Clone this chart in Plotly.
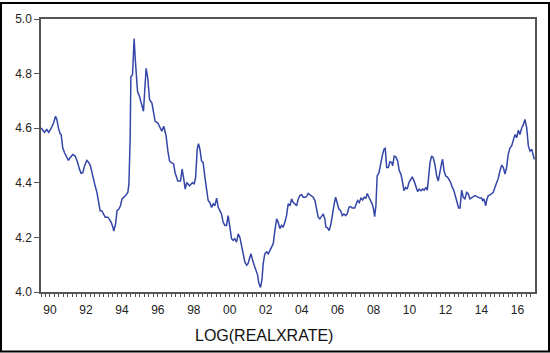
import plotly.graph_objects as go

# Traced observations: decimal year and LOG(REALXRATE)
dates = [
    1990.01, 1990.19, 1990.32, 1990.43, 1990.56, 1990.70, 1990.81, 1990.88, 1990.97, 1991.06,
    1991.12, 1991.21, 1991.31, 1991.44, 1991.53, 1991.62, 1991.77, 1991.90, 1992.01, 1992.14,
    1992.23, 1992.33, 1992.42, 1992.55, 1992.66, 1992.75, 1992.83, 1992.92, 1993.01, 1993.11,
    1993.20, 1993.29, 1993.38, 1993.48, 1993.57, 1993.72, 1993.81, 1993.90, 1994.00, 1994.05,
    1994.15, 1994.23, 1994.33, 1994.42, 1994.51, 1994.61, 1994.70, 1994.83, 1994.89, 1994.96,
    1995.00, 1995.09, 1995.18, 1995.24, 1995.29, 1995.37, 1995.48, 1995.61, 1995.70, 1995.79,
    1995.85, 1995.94, 1996.04, 1996.17, 1996.28, 1996.35, 1996.50, 1996.63, 1996.72, 1996.83,
    1996.96, 1997.06, 1997.15, 1997.24, 1997.37, 1997.46, 1997.61, 1997.76, 1997.85, 1997.93,
    1998.02, 1998.11, 1998.26, 1998.43, 1998.52, 1998.60, 1998.69, 1998.76, 1998.84, 1998.93,
    1999.02, 1999.12, 1999.21, 1999.30, 1999.39, 1999.49, 1999.58, 1999.67, 1999.77, 1999.86,
    1999.95, 2000.04, 2000.13, 2000.23, 2000.32, 2000.41, 2000.51, 2000.60, 2000.69, 2000.78,
    2000.88, 2000.97, 2001.06, 2001.16, 2001.25, 2001.34, 2001.44, 2001.52, 2001.62, 2001.68,
    2001.77, 2001.86, 2001.95, 2002.05, 2002.12, 2002.21, 2002.29, 2002.36, 2002.45, 2002.55,
    2002.64, 2002.73, 2002.83, 2002.92, 2003.01, 2003.11, 2003.19, 2003.29, 2003.38, 2003.47,
    2003.57, 2003.66, 2003.75, 2003.85, 2003.94, 2004.03, 2004.12, 2004.22, 2004.31, 2004.40,
    2004.50, 2004.59, 2004.68, 2004.77, 2004.86, 2004.96, 2005.05, 2005.14, 2005.24, 2005.33,
    2005.42, 2005.51, 2005.61, 2005.70, 2005.79, 2005.85, 2005.94, 2006.03, 2006.13, 2006.22,
    2006.31, 2006.39, 2006.48, 2006.57, 2006.67, 2006.76, 2006.85, 2006.95, 2007.03, 2007.13,
    2007.22, 2007.31, 2007.45, 2007.52, 2007.61, 2007.70, 2007.80, 2007.89, 2007.98, 2008.07,
    2008.15, 2008.24, 2008.34, 2008.42, 2008.50, 2008.56, 2008.63, 2008.70, 2008.80, 2008.89,
    2008.98, 2009.08, 2009.15, 2009.23, 2009.32, 2009.41, 2009.51, 2009.56, 2009.65, 2009.74,
    2009.84, 2009.93, 2010.02, 2010.10, 2010.19, 2010.28, 2010.37, 2010.47, 2010.56, 2010.65,
    2010.75, 2010.84, 2010.95, 2011.04, 2011.14, 2011.23, 2011.32, 2011.41, 2011.49, 2011.56,
    2011.64, 2011.73, 2011.82, 2011.91, 2012.01, 2012.10, 2012.19, 2012.29, 2012.34, 2012.42,
    2012.51, 2012.60, 2012.69, 2012.79, 2012.88, 2012.97, 2013.07, 2013.16, 2013.23, 2013.31,
    2013.40, 2013.49, 2013.58, 2013.68, 2013.77, 2013.86, 2013.96, 2014.05, 2014.14, 2014.24,
    2014.32, 2014.42, 2014.51, 2014.57, 2014.64, 2014.74, 2014.79, 2014.88, 2014.98, 2015.07,
    2015.16, 2015.25, 2015.35, 2015.44, 2015.53, 2015.63, 2015.72, 2015.81, 2015.90, 2015.99,
    2016.09, 2016.18, 2016.37, 2016.46, 2016.55, 2016.64, 2016.74, 2016.83, 2016.92, 2017.02,
    2017.11, 2017.20, 2017.30, 2017.39, 2017.44,
]
values = [
    4.601, 4.585, 4.595, 4.585, 4.599, 4.619, 4.644, 4.632, 4.601, 4.580,
    4.577, 4.528, 4.510, 4.492, 4.482, 4.492, 4.504, 4.498, 4.480, 4.450,
    4.435, 4.437, 4.462, 4.482, 4.474, 4.462, 4.437, 4.407, 4.389, 4.365,
    4.328, 4.298, 4.298, 4.286, 4.274, 4.274, 4.265, 4.256, 4.237, 4.223,
    4.250, 4.298, 4.304, 4.316, 4.341, 4.347, 4.353, 4.365, 4.395, 4.565,
    4.789, 4.795, 4.928, 4.856, 4.789, 4.735, 4.716, 4.680, 4.662, 4.759,
    4.819, 4.783, 4.704, 4.692, 4.656, 4.625, 4.619, 4.601, 4.589, 4.607,
    4.571, 4.516, 4.480, 4.474, 4.470, 4.437, 4.407, 4.407, 4.450, 4.419,
    4.377, 4.401, 4.389, 4.401, 4.395, 4.419, 4.523, 4.543, 4.523, 4.480,
    4.474, 4.419, 4.371, 4.335, 4.328, 4.310, 4.323, 4.316, 4.344, 4.310,
    4.298, 4.286, 4.256, 4.244, 4.244, 4.280, 4.237, 4.195, 4.189, 4.195,
    4.183, 4.213, 4.201, 4.165, 4.128, 4.110, 4.098, 4.104, 4.128, 4.140,
    4.116, 4.098, 4.080, 4.062, 4.032, 4.017, 4.044, 4.104, 4.140, 4.147,
    4.140, 4.153, 4.165, 4.177, 4.225, 4.268, 4.256, 4.232, 4.244, 4.237,
    4.256, 4.280, 4.323, 4.316, 4.341, 4.328, 4.323, 4.316, 4.341, 4.353,
    4.356, 4.347, 4.347, 4.349, 4.361, 4.356, 4.349, 4.347, 4.335, 4.304,
    4.274, 4.268, 4.280, 4.286, 4.268, 4.237, 4.235, 4.225, 4.250, 4.292,
    4.323, 4.347, 4.323, 4.304, 4.298, 4.280, 4.286, 4.280, 4.286, 4.310,
    4.313, 4.308, 4.308, 4.323, 4.335, 4.328, 4.344, 4.337, 4.347, 4.344,
    4.361, 4.347, 4.335, 4.323, 4.304, 4.276, 4.316, 4.425, 4.437, 4.474,
    4.498, 4.523, 4.526, 4.456, 4.456, 4.477, 4.474, 4.462, 4.498, 4.495,
    4.480, 4.444, 4.432, 4.407, 4.371, 4.383, 4.377, 4.401, 4.413, 4.422,
    4.407, 4.389, 4.368, 4.377, 4.371, 4.377, 4.373, 4.383, 4.373, 4.419,
    4.474, 4.498, 4.492, 4.468, 4.425, 4.407, 4.444, 4.474, 4.486, 4.444,
    4.425, 4.422, 4.413, 4.401, 4.383, 4.371, 4.347, 4.323, 4.308, 4.308,
    4.373, 4.347, 4.341, 4.365, 4.359, 4.341, 4.344, 4.349, 4.353, 4.349,
    4.347, 4.344, 4.344, 4.335, 4.341, 4.316, 4.335, 4.353, 4.356, 4.359,
    4.365, 4.383, 4.401, 4.417, 4.444, 4.465, 4.456, 4.432, 4.456, 4.504,
    4.528, 4.535, 4.577, 4.565, 4.592, 4.577, 4.601, 4.613, 4.632, 4.601,
    4.535, 4.516, 4.523, 4.492, 4.486,
]

label_years = list(range(1990, 2017, 2))
tick_labels = ["%02d" % (y % 100) for y in label_years]
y_ticks = [4.0, 4.2, 4.4, 4.6, 4.8, 5.0]
series_name = "LOG(REALXRATE)"

W, H = 550, 353
L, R, T, B = 41, 15, 17, 61
pw, ph = W - L - R, H - T - B

font = dict(family="Arial, Liberation Sans, sans-serif", size=12, color="#222")

fig = go.Figure()
fig.add_trace(go.Scatter(x=dates, y=values, mode="lines",
                         line=dict(color="#3446a8", width=1.5),
                         showlegend=False, hoverinfo="skip"))
# invisible trace for year-tick axis
fig.add_trace(go.Scatter(x=[1990, 2017.48], y=[4.0, 4.0], xaxis="x2",
                         mode="lines", line=dict(width=0), showlegend=False,
                         hoverinfo="skip"))

xrange = [1990.0, 2017.48]
fig.update_layout(
    width=W, height=H,
    margin=dict(l=L, r=R, t=T, b=B),
    paper_bgcolor="white", plot_bgcolor="white",
    font=font,
    xaxis=dict(range=xrange, tickmode="array",
               tickvals=[y + 0.5 for y in label_years], ticktext=tick_labels,
               ticks="outside", ticklen=6, tickcolor="rgba(0,0,0,0)",
               showgrid=False, zeroline=False,
               showline=True, linecolor="#555", linewidth=1.5, mirror=True,
               minor=dict(tickmode="linear", tick0=1990, dtick=0.25,
                          ticks="outside", ticklen=3, tickcolor="#555",
                          tickwidth=1, showgrid=False),
               tickfont=font),
    xaxis2=dict(range=xrange, overlaying="x", anchor="y", side="bottom",
                tickmode="linear", tick0=1990, dtick=1, ticks="outside",
                ticklen=4, tickcolor="#555", showticklabels=False,
                showgrid=False, zeroline=False, showline=False),
    yaxis=dict(range=[4.0, 5.0], tickmode="array", tickvals=y_ticks,
               ticktext=["%.1f" % v for v in y_ticks],
               ticks="outside", ticklen=5, tickcolor="#555",
               showgrid=False, zeroline=False,
               showline=True, linecolor="#555", linewidth=1.5, mirror=True,
               tickfont=font),
    annotations=[dict(text=series_name, xref="paper", yref="paper",
                      x=(264 - L) / pw, y=(T + ph - 336) / ph,
                      xanchor="center", yanchor="middle", showarrow=False,
                      font=dict(family="Arial, Liberation Sans, sans-serif",
                                size=16, color="#111"))],
    shapes=[dict(type="rect", xref="paper", yref="paper",
                 x0=(1 - L) / pw, x1=(W - 1 - L) / pw,
                 y0=(T + ph - (H - 1)) / ph, y1=(T + ph - 1) / ph,
                 line=dict(color="black", width=2), fillcolor="rgba(0,0,0,0)",
                 layer="above")],
)

fig.write_html("out.html")
